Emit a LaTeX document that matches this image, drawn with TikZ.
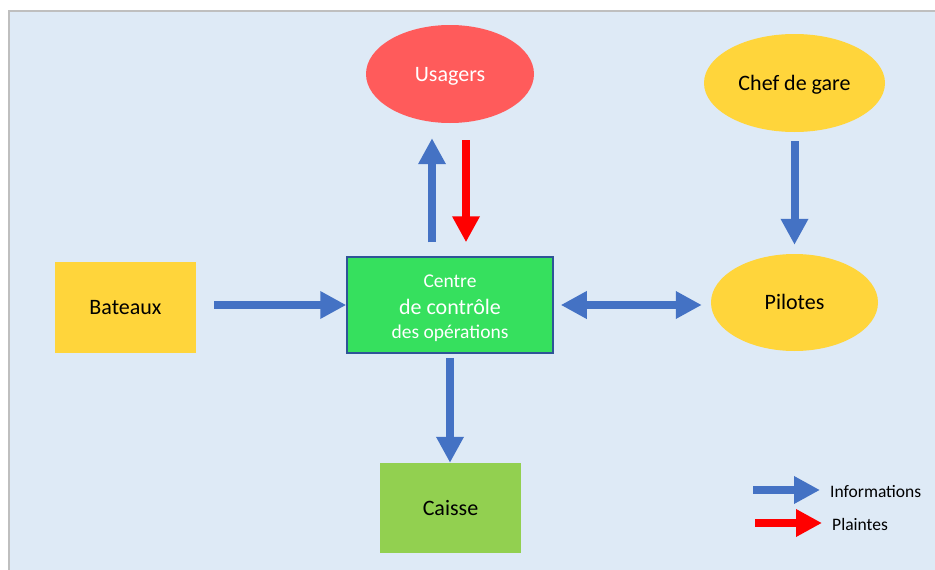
\documentclass[tikz,border=0pt]{standalone}
\usepackage{fontspec}
\setmainfont{Carlito}
\usetikzlibrary{shapes.geometric,arrows.meta}
\definecolor{bgblue}{HTML}{DEEAF6}
\definecolor{framegray}{HTML}{BFBFBF}
\definecolor{usred}{HTML}{FF5B5B}
\definecolor{gold}{HTML}{FFD53B}
\definecolor{cgreen}{HTML}{36E05E}
\definecolor{cborder}{HTML}{2F5597}
\definecolor{lgreen}{HTML}{92D050}
\definecolor{infoblue}{HTML}{4472C4}
\definecolor{plred}{HTML}{FF0000}
\tikzset{
  oval/.style={ellipse, inner sep=0pt, text height=14pt, text depth=0pt, font=\fontsize{22}{26}\selectfont},
  box/.style={rectangle, inner sep=0pt, text height=14pt, text depth=0pt, font=\fontsize{22}{26}\selectfont},
  fatarrow/.style={line width=8pt, line cap=butt, -{Triangle[length=26pt,width=26pt]}},
  fatboth/.style={line width=8pt, line cap=butt, {Triangle[length=26pt,width=26pt]}-{Triangle[length=26pt,width=26pt]}},
  info/.style={fatarrow, draw=infoblue},
  plainte/.style={fatarrow, draw=plred},
  legtext/.style={anchor=west, inner sep=0pt, font=\fontsize{17.5}{20}\selectfont}
}
\begin{document}
\begin{tikzpicture}[x=1pt,y=-1pt]
\useasboundingbox (0,0) rectangle (935,570);
\fill[white] (0,0) rectangle (935,570);
\draw[fill=bgblue, draw=framegray, line width=1.5pt] (9,11) rectangle (945,580);

\node[oval, fill=usred, text=white, minimum width=168pt, minimum height=98pt] (us) at (450,74) {Usagers};
\node[oval, fill=gold, minimum width=181pt, minimum height=98pt] (chef) at (794.5,83) {Chef de gare};
\node[oval, fill=gold, minimum width=167pt, minimum height=97pt] (pil) at (794.5,302.5) {Pilotes};
\node[box, fill=gold, minimum width=141pt, minimum height=91pt] (bat) at (125.5,307.5) {Bateaux};
\node[rectangle, inner sep=0pt, fill=cgreen, draw=cborder, line width=1.5pt, minimum width=206pt, minimum height=96pt] (cen) at (450,305) {};
\node[inner sep=0pt, text=white, align=center, font=\fontsize{19.5}{24}\selectfont] (centxt) at ([yshift=-3pt]cen.center)
  {Centre\\[3pt]{\fontsize{22}{24}\selectfont de contrôle}\\des opérations};
\node[box, fill=lgreen, minimum width=141pt, minimum height=90pt] (cai) at (450.5,508) {Caisse};

\draw[info, shorten <=18pt] (bat.east |- cen.west) -- (cen.west);
\draw[info, shorten <=4pt] (cen.south) -- (cen.south |- cai.north);
\draw[fatboth, draw=infoblue, shorten <=7pt, shorten >=9pt] (cen.east) -- (pil.west |- cen.east);
\draw[info, shorten <=9pt, shorten >=9pt] (chef.south) -- (pil.north);
\draw[info, shorten <=14pt, shorten >=15pt] ([xshift=-18pt]cen.north) -- ([xshift=-18pt]us.south);
\draw[plainte, shorten <=17pt, shorten >=14pt] ([xshift=16pt]us.south) -- ([xshift=16pt]cen.north);

\coordinate (l1a) at (753,490);
\coordinate (l1b) at (820,490);
\coordinate (l2a) at (755,523);
\coordinate (l2b) at (822,523);
\draw[info] (l1a) -- (l1b);
\draw[plainte] (l2a) -- (l2b);
\node[legtext] (linfo) at (830,492) {Informations};
\node[legtext] (lpl) at (832,524) {Plaintes};
\end{tikzpicture}
\end{document}
